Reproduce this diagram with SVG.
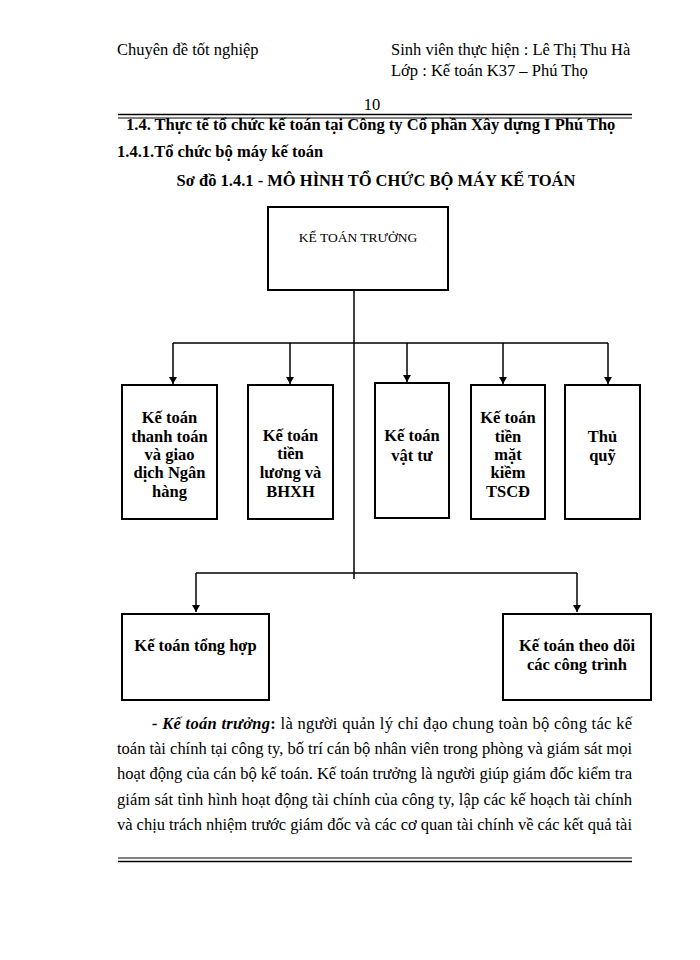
<svg xmlns="http://www.w3.org/2000/svg" width="700" height="960" viewBox="0 0 700 960">
<style>
text{font-family:"Liberation Serif","Times New Roman",serif;fill:#000}
.hd{font-size:16.5px}
.b{font-weight:bold}
.bx{fill:#fff;stroke:#000;stroke-width:2}
.nt{font-size:16.5px;font-weight:bold;text-anchor:middle}
.ln{fill:none;stroke:#000;stroke-width:1.5}
.p{font-size:16.5px}
.rule{stroke:#000;fill:none}
</style>
<defs>
<marker id="ad" markerUnits="userSpaceOnUse" markerWidth="8" markerHeight="8" refX="4" refY="8" viewBox="0 0 8 8">
<path d="M0,1 L8,1 L4,8 Z" fill="#000"/>
</marker>
</defs>

<g id="header">
<text class="hd" x="117" y="55">Chuyên đề tốt nghiệp</text>
<text class="hd" x="391" y="55">Sinh viên thực hiện : Lê Thị Thu Hà</text>
<text class="hd" x="391" y="76">Lớp : Kế toán K37 – Phú Thọ</text>
<text class="hd" x="372" y="110" text-anchor="middle">10</text>
<line class="rule" x1="118" y1="114.5" x2="632" y2="114.5" stroke-width="1.5"/>
<line class="rule" x1="118" y1="118" x2="632" y2="118" stroke-width="1"/>
<text class="hd b" x="126" y="130">1.4.  Thực tế tổ chức kế toán tại Công ty Cổ phần Xây dựng I Phú Thọ</text>
<text class="hd b" x="117" y="157">1.4.1.Tổ chức bộ máy kế toán</text>
<text class="hd b" x="376" y="186" text-anchor="middle">Sơ đồ 1.4.1 - MÔ HÌNH TỔ CHỨC BỘ MÁY KẾ TOÁN</text>
</g>

<g id="connectors">
<line class="ln" x1="354" y1="290" x2="354" y2="579"/>
<line class="ln" x1="173" y1="343" x2="608" y2="343"/>
<line class="ln" x1="173" y1="343" x2="173" y2="384" marker-end="url(#ad)"/>
<line class="ln" x1="290" y1="343" x2="290" y2="384" marker-end="url(#ad)"/>
<line class="ln" x1="407" y1="343" x2="407" y2="382" marker-end="url(#ad)"/>
<line class="ln" x1="503" y1="343" x2="503" y2="384" marker-end="url(#ad)"/>
<line class="ln" x1="608" y1="343" x2="608" y2="384" marker-end="url(#ad)"/>
<line class="ln" x1="196" y1="573" x2="577" y2="573"/>
<line class="ln" x1="196" y1="573" x2="196" y2="612" marker-end="url(#ad)"/>
<line class="ln" x1="577" y1="573" x2="577" y2="612" marker-end="url(#ad)"/>
</g>

<g id="ke-toan-truong">
<rect class="bx" x="268" y="207" width="180" height="83"/>
<text x="358" y="242" font-size="13.5" text-anchor="middle">KẾ TOÁN TRƯỞNG</text>
</g>

<g id="kt-thanh-toan">
<rect class="bx" x="122" y="385" width="95" height="134"/>
<text class="nt" x="169.5" y="423">Kế toán</text>
<text class="nt" x="169.5" y="442">thanh toán</text>
<text class="nt" x="169.5" y="460">và giao</text>
<text class="nt" x="169.5" y="478">dịch Ngân</text>
<text class="nt" x="169.5" y="497">hàng</text>
</g>

<g id="kt-tien-luong">
<rect class="bx" x="248" y="385" width="85" height="134"/>
<text class="nt" x="290.5" y="441">Kế toán</text>
<text class="nt" x="290.5" y="459">tiền</text>
<text class="nt" x="290.5" y="478">lương và</text>
<text class="nt" x="290.5" y="497">BHXH</text>
</g>

<g id="kt-vat-tu">
<rect class="bx" x="375" y="383" width="74" height="135"/>
<text class="nt" x="412" y="441">Kế toán</text>
<text class="nt" x="412" y="461">vật tư</text>
</g>

<g id="kt-tien-mat">
<rect class="bx" x="471" y="385" width="74" height="134"/>
<text class="nt" x="508" y="423">Kế toán</text>
<text class="nt" x="508" y="442">tiền</text>
<text class="nt" x="508" y="460">mặt</text>
<text class="nt" x="508" y="478">kiềm</text>
<text class="nt" x="508" y="497">TSCĐ</text>
</g>

<g id="thu-quy">
<rect class="bx" x="565" y="385" width="75" height="134"/>
<text class="nt" x="602.5" y="442">Thủ</text>
<text class="nt" x="602.5" y="461">quỹ</text>
</g>

<g id="kt-tong-hop">
<rect class="bx" x="122" y="614" width="147" height="86"/>
<text class="nt" x="195.5" y="651">Kế toán tổng hợp</text>
</g>

<g id="kt-cong-trinh">
<rect class="bx" x="503" y="614" width="148" height="86"/>
<text class="nt" x="577" y="651">Kế toán theo dõi</text>
<text class="nt" x="577" y="670">các công trình</text>
</g>

<g id="paragraph">
<text class="p" x="152" y="729" textLength="480" lengthAdjust="spacing"><tspan font-weight="bold" font-style="italic">- Kế toán trưởng</tspan><tspan font-weight="bold">:</tspan> là người quản lý chỉ đạo chung toàn bộ công tác kế</text>
<text class="p" x="117" y="754" textLength="515" lengthAdjust="spacing">toán tài chính tại công ty, bố trí cán bộ nhân viên trong phòng và giám sát mọi</text>
<text class="p" x="117" y="779" textLength="515" lengthAdjust="spacing">hoạt động của cán bộ kế toán. Kế toán trưởng là người giúp giám đốc kiểm tra</text>
<text class="p" x="117" y="805" textLength="515" lengthAdjust="spacing">giám sát tình hình hoạt động tài chính của công ty, lập các kế hoạch tài chính</text>
<text class="p" x="117" y="830" textLength="515" lengthAdjust="spacing">và chịu trách nhiệm trước giám đốc và các cơ quan tài chính về các kết quả tài</text>
<line class="rule" x1="118" y1="858" x2="632" y2="858" stroke-width="1"/>
<line class="rule" x1="118" y1="861.5" x2="632" y2="861.5" stroke-width="1.5"/>
</g>
</svg>
